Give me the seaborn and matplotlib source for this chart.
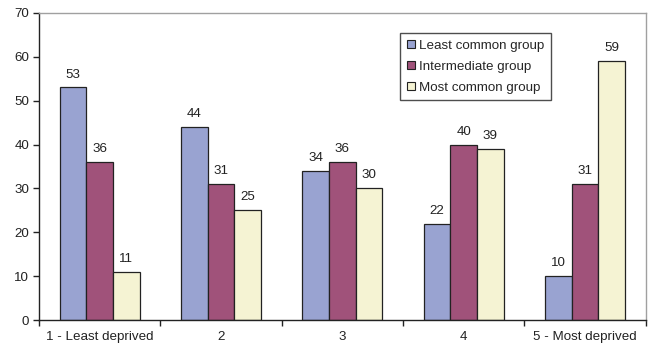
import matplotlib
matplotlib.use("Agg")
import matplotlib.pyplot as plt
import seaborn as sns
import pandas as pd
import numpy as np

categories = ["1 - Least deprived", "2", "3", "4", "5 - Most deprived"]
groups = ["Least common group", "Intermediate group", "Most common group"]
least_common = [53, 44, 34, 22, 10]
intermediate = [36, 31, 36, 40, 31]
most_common = [11, 25, 30, 39, 59]

colors = ["#99a3d1", "#a0527a", "#f5f3d3"]

rows = []
for g, vals in zip(groups, [least_common, intermediate, most_common]):
    for c, v in zip(categories, vals):
        rows.append({"category": c, "group": g, "value": v})
df = pd.DataFrame(rows)

sns.set_theme(style="white")
plt.rcParams["font.family"] = ["Liberation Sans", "DejaVu Sans"]

FS = 9.6

fig = plt.figure(figsize=(6.49, 3.49), dpi=100)
ax = fig.add_axes([0.060, 0.083, 0.935, 0.880])

sns.barplot(data=df, x="category", y="value", hue="group",
            order=categories, hue_order=groups, palette=colors,
            width=0.66, gap=0, edgecolor="#222222", linewidth=0.9,
            saturation=1, ax=ax, legend=True)

for container in ax.containers:
    ax.bar_label(container, fmt="%d", padding=5, fontsize=FS, color="#222222")

ax.set_xlim(-0.5, 4.5)
ax.set_ylim(0, 70)
ax.set_yticks(range(0, 71, 10))
ax.set_xlabel("")
ax.set_ylabel("")

ax.set_xticks(np.arange(-0.5, 4.6, 1.0), minor=True)
ax.tick_params(axis="x", which="major", length=0, pad=8, labelsize=FS, colors="#222222")
ax.tick_params(axis="x", which="minor", length=4, width=1, color="#222222", direction="out", bottom=True)
ax.tick_params(axis="y", length=4, width=1, color="#222222", direction="out", left=True,
               labelsize=FS, labelcolor="#222222", pad=3)

for side in ["left", "bottom"]:
    ax.spines[side].set_color("#222222")
    ax.spines[side].set_linewidth(1.0)
for side in ["top", "right"]:
    ax.spines[side].set_visible(True)
    ax.spines[side].set_color("#a0a0a0")
    ax.spines[side].set_linewidth(1.0)

leg = ax.legend(loc="upper left", bbox_to_anchor=(0.595, 0.935), fontsize=FS,
                frameon=True, fancybox=False, edgecolor="#222222",
                handlelength=0.6, handleheight=0.6, handletextpad=0.35,
                labelspacing=0.68, borderpad=0.5, borderaxespad=0)
leg.get_frame().set_linewidth(1.0)
for h in leg.legend_handles:
    h.set_edgecolor("#222222")
    h.set_linewidth(0.8)

fig.savefig("out.png", dpi=100)
